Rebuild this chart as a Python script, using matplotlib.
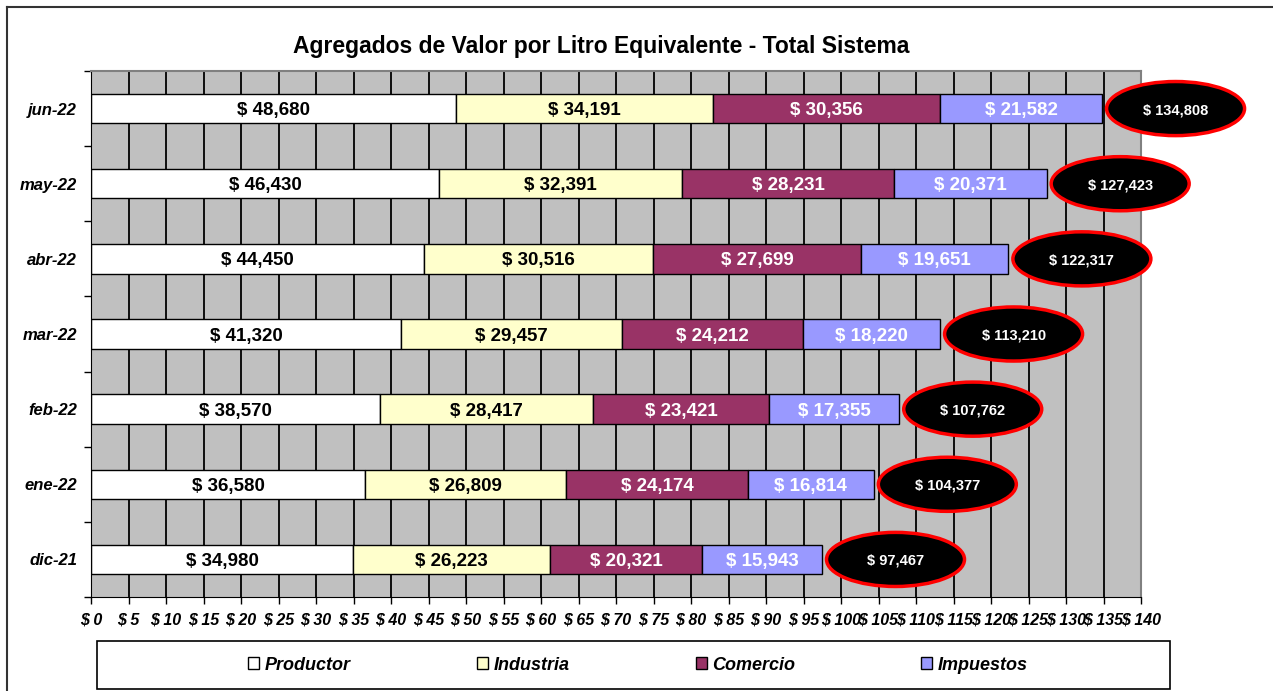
import matplotlib
matplotlib.use("Agg")
import matplotlib.pyplot as plt
from matplotlib.patches import Ellipse, Rectangle
from matplotlib.lines import Line2D
import numpy as np

categories = ["dic-21", "ene-22", "feb-22", "mar-22", "abr-22", "may-22", "jun-22"]
productor = [34.980, 36.580, 38.570, 41.320, 44.450, 46.430, 48.680]
industria = [26.223, 26.809, 28.417, 29.457, 30.516, 32.391, 34.191]
comercio = [20.321, 24.174, 23.421, 24.212, 27.699, 28.231, 30.356]
impuestos = [15.943, 16.814, 17.355, 18.220, 19.651, 20.371, 21.582]
totals = [97.467, 104.377, 107.762, 113.210, 122.317, 127.423, 134.808]
series_names = ["Productor", "Industria", "Comercio", "Impuestos"]
series_colors = ["#FFFFFF", "#FFFFCC", "#993366", "#9999FF"]
text_colors = ["black", "black", "white", "white"]
x_ticks = list(range(0, 145, 5))

plt.rcParams['font.family'] = ['Liberation Sans', 'DejaVu Sans']

W, H = 1273, 691
fig = plt.figure(figsize=(W / 100, H / 100), dpi=100)

# figure frame (top and left visible)
fig.add_artist(Line2D([7 / W, 7 / W], [0, 1 - 7 / H], transform=fig.transFigure, color="#333333", lw=1.5))
fig.add_artist(Line2D([7 / W, 1], [1 - 7 / H, 1 - 7 / H], transform=fig.transFigure, color="#333333", lw=1.5))

ax = fig.add_axes([91 / W, 94 / H, 1050 / W, 526 / H])
ax.set_facecolor("#C0C0C0")
ax.set_xlim(0, 140)
ax.set_ylim(-0.5, len(categories) - 0.5)

for x in x_ticks[1:-1]:
    ax.axvline(x, color="black", lw=1.3, zorder=1)

y = np.arange(len(categories))
series = [productor, industria, comercio, impuestos]
left = np.zeros(len(categories))
for vals, name, col, tc in zip(series, series_names, series_colors, text_colors):
    vals = np.array(vals)
    ax.barh(y, vals, left=left, height=0.39, color=col, edgecolor="black",
            linewidth=1.0, label=name, zorder=2)
    for yi, v, l in zip(y, vals, left):
        ax.text(l + v / 2, yi, "$ {:,.0f}".format(v * 1000), ha="center", va="center_baseline",
                color=tc, fontsize=13.5, fontweight="bold", zorder=3)
    left = left + vals

for yi, t in zip(y, totals):
    e = Ellipse((t + 9.8, yi), width=18.4, height=0.72, facecolor="black",
                edgecolor="#FF0000", linewidth=2.5, clip_on=False, zorder=4)
    ax.add_patch(e)
    ax.text(t + 9.8, yi, "$ {:,.0f}".format(t * 1000), ha="center", va="center_baseline",
            color="white", fontsize=10.5, fontweight="bold", zorder=5, clip_on=False)

ax.set_xticks(x_ticks)
ax.set_xticklabels(["$ {}".format(v) for v in x_ticks], fontsize=11.5,
                   fontweight="bold", fontstyle="italic")
ax.set_yticks(y)
ax.set_yticklabels(categories, fontsize=12, fontweight="bold", fontstyle="italic")
ax.set_yticks(np.arange(-0.5, len(categories), 1.0), minor=True)
ax.tick_params(axis="y", which="major", length=0, pad=10)
ax.tick_params(axis="y", which="minor", length=5, direction="out", width=1)
ax.tick_params(axis="x", which="major", length=5, direction="out", width=1, pad=6)

ax.spines["top"].set_color("#808080")
ax.spines["right"].set_color("#808080")
ax.spines["top"].set_linewidth(1.5)
ax.spines["right"].set_linewidth(1.5)
ax.spines["left"].set_color("black")
ax.spines["bottom"].set_color("black")

fig.text(601 / W, 1 - 47 / H, "Agregados de Valor por Litro Equivalente - Total Sistema",
         ha="center", va="center", fontsize=16.5, fontweight="bold")

# legend box
fig.add_artist(Rectangle((97 / W, 2 / H), 1073 / W, 48 / H, transform=fig.transFigure,
                         facecolor="white", edgecolor="black", lw=1.2))
handles, labels = ax.get_legend_handles_labels()
fig.legend(handles, labels, loc="center", bbox_to_anchor=(638 / W, 26 / H), ncol=4,
           frameon=False, columnspacing=7.0, handlelength=0.6, handleheight=0.6,
           handletextpad=0.3,
           prop={"size": 13, "weight": "bold", "style": "italic"})

fig.savefig("out.png", dpi=100)
